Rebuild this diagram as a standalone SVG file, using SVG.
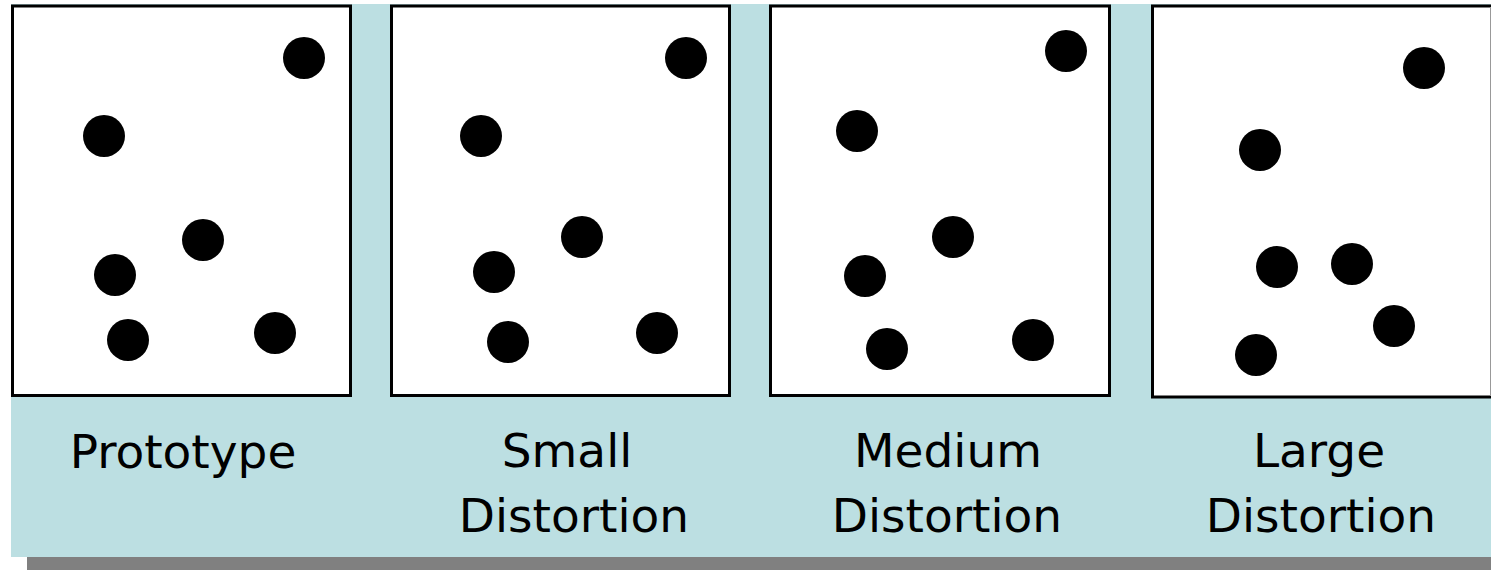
<svg xmlns="http://www.w3.org/2000/svg" width="1491" height="570" viewBox="0 0 1491 570">
<style>
.box{fill:#fff;stroke:#000;stroke-width:3}
.dot{fill:#000}
.lbl{font-family:"DejaVu Sans",sans-serif;font-size:47px;fill:#000;text-anchor:middle}
</style>
<rect x="0" y="0" width="1491" height="570" fill="#fff"/>
<rect x="27" y="557" width="1464" height="13" fill="#808080"/>
<rect x="11" y="4" width="1480" height="553" fill="#BCDFE2"/>
<g id="prototype">
<rect class="box" x="12.5" y="6" width="338" height="389.5"/>
<circle class="dot" cx="304" cy="58" r="21"/>
<circle class="dot" cx="104" cy="136" r="21"/>
<circle class="dot" cx="203" cy="240" r="21"/>
<circle class="dot" cx="115" cy="275" r="21"/>
<circle class="dot" cx="128" cy="340" r="21"/>
<circle class="dot" cx="275" cy="333" r="21"/>
<text class="lbl" x="183" y="468">Prototype</text>
</g>
<g id="small">
<rect class="box" x="391.5" y="6" width="338" height="389.5"/>
<circle class="dot" cx="686" cy="58" r="21"/>
<circle class="dot" cx="481" cy="136" r="21"/>
<circle class="dot" cx="582" cy="237" r="21"/>
<circle class="dot" cx="494" cy="272" r="21"/>
<circle class="dot" cx="508" cy="342" r="21"/>
<circle class="dot" cx="657" cy="333" r="21"/>
<text class="lbl" x="567" y="467">Small</text>
<text class="lbl" x="574" y="532">Distortion</text>
</g>
<g id="medium">
<rect class="box" x="770.5" y="6" width="339" height="389.5"/>
<circle class="dot" cx="1066" cy="51" r="21"/>
<circle class="dot" cx="857" cy="131" r="21"/>
<circle class="dot" cx="953" cy="237" r="21"/>
<circle class="dot" cx="865" cy="276" r="21"/>
<circle class="dot" cx="887" cy="349" r="21"/>
<circle class="dot" cx="1033" cy="340" r="21"/>
<text class="lbl" x="948" y="467">Medium</text>
<text class="lbl" x="947" y="532">Distortion</text>
</g>
<g id="large">
<rect class="box" x="1152.5" y="6" width="340" height="391"/>
<line x1="1490.5" y1="7" x2="1490.5" y2="396" stroke="#999" stroke-width="1"/>
<circle class="dot" cx="1424" cy="68" r="21"/>
<circle class="dot" cx="1260" cy="150" r="21"/>
<circle class="dot" cx="1277" cy="267" r="21"/>
<circle class="dot" cx="1352" cy="264" r="21"/>
<circle class="dot" cx="1394" cy="326" r="21"/>
<circle class="dot" cx="1256" cy="355" r="21"/>
<text class="lbl" x="1319" y="467">Large</text>
<text class="lbl" x="1321" y="532">Distortion</text>
</g>
<g id="connectors"/>
</svg>
